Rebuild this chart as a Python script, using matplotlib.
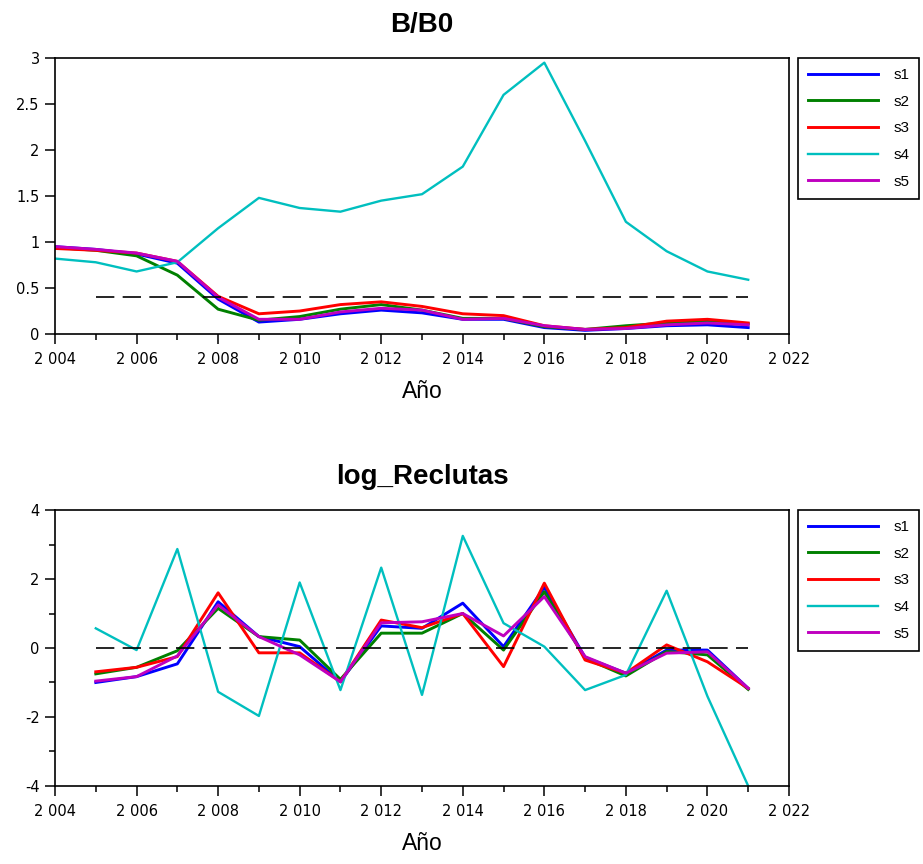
import numpy as np
import matplotlib
matplotlib.use('Agg')
import matplotlib.pyplot as plt
from matplotlib.ticker import FuncFormatter, MultipleLocator

# data
years_b = np.arange(2004, 2022)
years_r = np.arange(2005, 2022)
labels = ['s1', 's2', 's3', 's4', 's5']
colors = ['#0000ff', '#008000', '#ff0000', '#00bfbf', '#bf00bf']

bb0_s1 = [0.95, 0.92, 0.87, 0.77, 0.38, 0.13, 0.16, 0.22, 0.26, 0.23, 0.16, 0.16, 0.07, 0.04, 0.06, 0.09, 0.10, 0.07]
bb0_s2 = [0.94, 0.91, 0.85, 0.64, 0.27, 0.15, 0.19, 0.27, 0.32, 0.26, 0.17, 0.17, 0.08, 0.05, 0.09, 0.12, 0.14, 0.11]
bb0_s3 = [0.93, 0.91, 0.88, 0.79, 0.41, 0.22, 0.25, 0.32, 0.35, 0.30, 0.22, 0.20, 0.09, 0.05, 0.07, 0.14, 0.16, 0.12]
bb0_s4 = [0.82, 0.78, 0.68, 0.78, 1.15, 1.48, 1.37, 1.33, 1.45, 1.52, 1.82, 2.60, 2.95, 2.10, 1.22, 0.90, 0.68, 0.59]
bb0_s5 = [0.95, 0.92, 0.88, 0.79, 0.40, 0.16, 0.16, 0.24, 0.28, 0.26, 0.16, 0.17, 0.09, 0.05, 0.06, 0.10, 0.12, 0.10]

rec_s1 = [-1.00, -0.83, -0.46, 1.34, 0.33, 0.04, -0.98, 0.64, 0.57, 1.30, 0.04, 1.76, -0.27, -0.73, -0.06, -0.06, -1.17]
rec_s2 = [-0.75, -0.56, -0.08, 1.15, 0.33, 0.23, -0.91, 0.43, 0.43, 1.00, -0.06, 1.63, -0.30, -0.81, -0.10, -0.20, -1.20]
rec_s3 = [-0.69, -0.56, -0.25, 1.60, -0.14, -0.14, -0.98, 0.81, 0.59, 1.00, -0.54, 1.88, -0.35, -0.73, 0.09, -0.40, -1.17]
rec_s4 = [0.57, -0.06, 2.87, -1.27, -1.97, 1.90, -1.22, 2.33, -1.36, 3.25, 0.72, 0.04, -1.22, -0.78, 1.66, -1.40, -4.00]
rec_s5 = [-0.96, -0.83, -0.23, 1.25, 0.33, -0.20, -0.98, 0.73, 0.76, 1.00, 0.35, 1.49, -0.25, -0.73, -0.15, -0.11, -1.17]

bb0_ref = 0.4
rec_ref = 0.0

bb0 = [bb0_s1, bb0_s2, bb0_s3, bb0_s4, bb0_s5]
rec = [rec_s1, rec_s2, rec_s3, rec_s4, rec_s5]


def year_fmt(v, pos):
    s = '{:d}'.format(int(round(v)))
    return s[:-3] + ' ' + s[-3:]


def num_fmt(v, pos):
    return '{:g}'.format(v)


fig = plt.figure(figsize=(9.23, 8.64), dpi=100)
ax1 = fig.add_axes([0.0596, 0.6134, 0.7952, 0.3194])
ax2 = fig.add_axes([0.0596, 0.0903, 0.7952, 0.3194])

panels = [(ax1, years_b, bb0, bb0_ref, 'B/B0', (0, 3), 0.5, None, 0.9329),
          (ax2, years_r, rec, rec_ref, 'log_Reclutas', (-4, 4), 2, 1, 0.4097)]

for ax, yrs, series, ref, title, ylim, ymaj, ymin, legy in panels:
    for vals, lab, col in zip(series, labels, colors):
        lw = 1.7 if lab == 's4' else 2.1
        ax.plot(yrs, vals, color=col, lw=lw, label=lab)
    ax.plot(years_r, np.full(len(years_r), ref), color='black', lw=1.2,
            dashes=(11, 5))
    ax.set_xlim(2004, 2022)
    ax.set_ylim(*ylim)
    ax.xaxis.set_major_locator(MultipleLocator(2))
    ax.xaxis.set_minor_locator(MultipleLocator(1))
    ax.xaxis.set_major_formatter(FuncFormatter(year_fmt))
    ax.yaxis.set_major_locator(MultipleLocator(ymaj))
    if ymin:
        ax.yaxis.set_minor_locator(MultipleLocator(ymin))
    ax.yaxis.set_major_formatter(FuncFormatter(num_fmt))
    ax.tick_params(which='major', direction='out', length=7, width=1.1,
                   labelsize=10.5, colors='black')
    ax.tick_params(axis='x', which='major', pad=6)
    ax.tick_params(axis='y', which='major', pad=4)
    ax.tick_params(which='minor', direction='out', length=4.3, width=1.1)
    for sp in ax.spines.values():
        sp.set_linewidth(1.2)
    ax.set_title(title, fontsize=20, fontweight='bold',
                 family='Liberation Sans', pad=19)
    ax.set_xlabel('Año', fontsize=16.5, family='Liberation Sans', labelpad=9)
    ax.legend(loc='upper left', bbox_to_anchor=(0.8646, legy),
              bbox_transform=fig.transFigure, frameon=True, fancybox=False,
              edgecolor='black', framealpha=1,
              prop={'family': 'Liberation Sans', 'size': 11},
              handlelength=4.6, handletextpad=1.0, labelspacing=0.83,
              borderpad=0.65, borderaxespad=0)
    ax.get_legend().get_frame().set_linewidth(1.2)

fig.savefig('out.png', dpi=100)
